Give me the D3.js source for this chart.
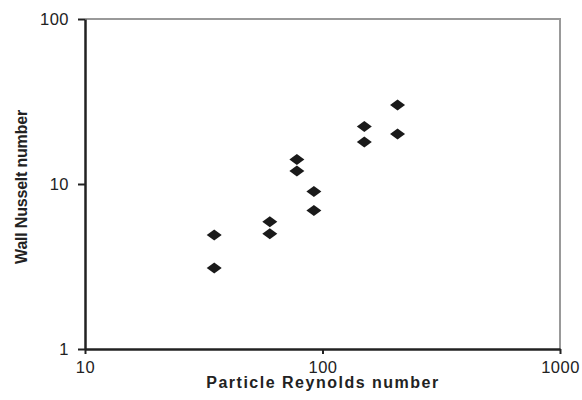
<!DOCTYPE html>
<html>
<head>
<meta charset="utf-8">
<script src="https://cdnjs.cloudflare.com/ajax/libs/d3/7.8.5/d3.min.js"></script>
<style>
  body { margin: 0; background: #fff; }
  svg { display: block; }
  text { font-family: "Liberation Sans", Arial, sans-serif; fill: #222; }
</style>
</head>
<body>
<script>
// Particle Reynolds number vs wall Nusselt number
var reynolds = [35, 35, 60, 60, 78, 78, 92, 92, 150, 150, 207, 207];
var nusselt  = [4.9, 3.1, 5.9, 5.0, 14.1, 12.0, 9.0, 6.9, 22.3, 18.0, 30.1, 20.1];
var xTicks = [10, 100, 1000];
var yTicks = [1, 10, 100];

var width = 582, height = 400;
var margin = {left: 85, right: 22, top: 19, bottom: 51};

var svg = d3.select('body').append('svg').attr('width', width).attr('height', height);

var x = d3.scaleLog().domain([10, 1000]).range([margin.left, width - margin.right]);
var y = d3.scaleLog().domain([1, 100]).range([height - margin.bottom, margin.top]);

// grey frame on top and right
svg.append('path')
   .attr('d', 'M' + x(10) + ',' + y(100) + 'H' + x(1000) + 'V' + y(1))
   .attr('fill', 'none')
   .attr('stroke', '#999')
   .attr('stroke-width', 2);

var xAxis = svg.append('g')
   .attr('transform', 'translate(0,' + y(1) + ')')
   .call(d3.axisBottom(x).tickValues(xTicks).tickFormat(d3.format('d')).tickSize(5).tickSizeOuter(0).tickPadding(7));

var yAxis = svg.append('g')
   .attr('transform', 'translate(' + x(10) + ',0)')
   .call(d3.axisLeft(y).tickValues(yTicks).tickFormat(d3.format('d')).tickSize(7).tickSizeOuter(0).tickPadding(9));

[xAxis, yAxis].forEach(function (g) {
  g.select('.domain').attr('stroke', '#222').attr('stroke-width', 2.5);
  g.selectAll('.tick line').attr('stroke', '#222').attr('stroke-width', 2);
  g.selectAll('.tick text').attr('fill', '#222').style('font-size', '16.5px').style('letter-spacing', '0.5px');
});

// axis titles
svg.append('text')
   .attr('x', 323).attr('y', 388)
   .attr('text-anchor', 'middle')
   .style('font-size', '16px').style('font-weight', 'bold').style('letter-spacing', '1.5px')
   .text('Particle Reynolds number');

svg.append('text')
   .attr('transform', 'translate(27,187) rotate(-90)')
   .attr('text-anchor', 'middle')
   .style('font-size', '16px').style('font-weight', 'bold').style('letter-spacing', '-0.2px')
   .text('Wall Nusselt number');

// diamond markers
var points = reynolds.map(function (r, i) { return {x: r, y: nusselt[i]}; });
svg.selectAll('path.pt')
   .data(points)
   .enter()
   .append('path')
   .attr('class', 'pt')
   .attr('d', 'M0,-5.5L7.5,0L0,5.5L-7.5,0Z')
   .attr('transform', function (d) { return 'translate(' + x(d.x) + ',' + y(d.y) + ')'; })
   .attr('fill', '#1a1a1a');
</script>
</body>
</html>
